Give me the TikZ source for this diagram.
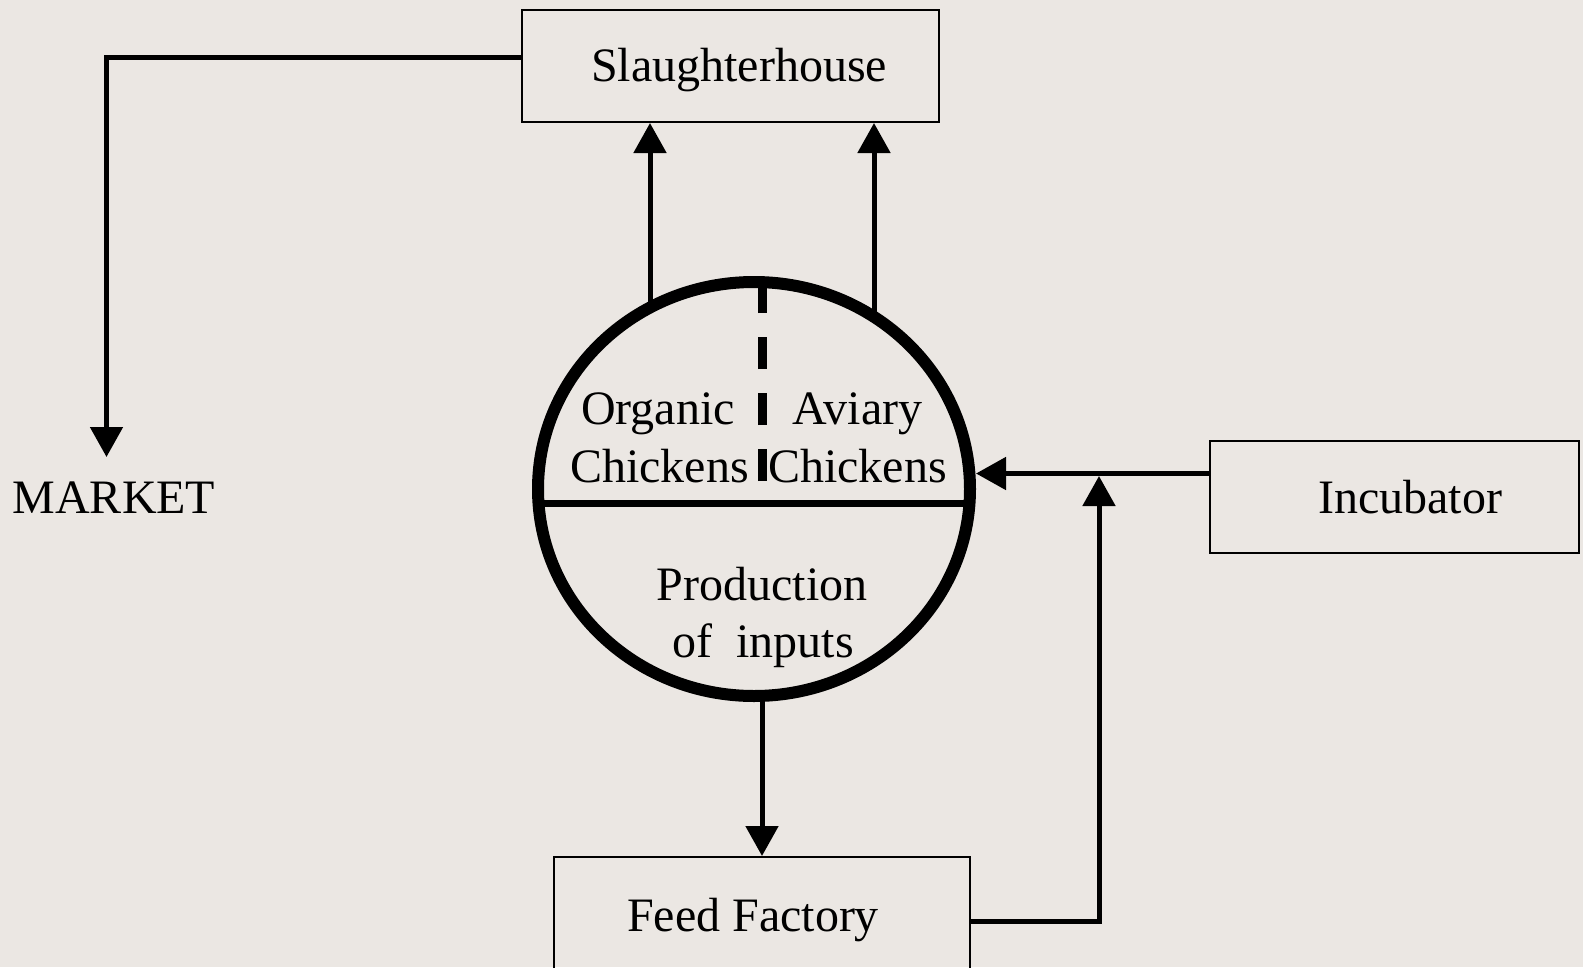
\documentclass[tikz,border=0pt]{standalone}
\usepackage{fontspec}
\setmainfont{Liberation Serif}
\usetikzlibrary{arrows.meta,shapes.geometric}
\definecolor{bg}{RGB}{235,231,227}
\begin{document}
\begin{tikzpicture}[x=1pt,y=-1pt,
  box/.style={draw,line width=2pt,rectangle,inner sep=0pt},
  lbl/.style={font=\fontsize{48}{57}\selectfont,inner sep=0pt,anchor=base},
  conn/.style={line width=5pt,-{Triangle[width=32pt,length=30pt]}},
  plainline/.style={line width=5pt}]
\useasboundingbox (0,0) rectangle (1583,967);
\fill[bg] (0,0) rectangle (1583,967);
\clip (0,0) rectangle (1583,967);

% boxes
\node[box,minimum width=417pt,minimum height=112pt] (slaughter) at (730.5,66) {};
\node[box,minimum width=369pt,minimum height=112pt] (incub) at (1394.5,497) {};
\node[box,minimum width=416pt,minimum height=112pt] (feed) at (762,913) {};

% inner divisions of the hub
\coordinate (hl) at (538.5,503);
\coordinate (hr) at (969.5,503);
\draw[line width=7pt] (hl) -- (hr);
\coordinate (db) at (762,481);
\coordinate (dt) at (762,283);
\draw[line width=9pt,dash pattern=on 32pt off 24pt] (db) -- (dt);

% hub
\node[ellipse,draw,line width=12pt,minimum width=432pt,minimum height=414pt,inner sep=0pt] (hub) at (754,489) {};

% labels
\node[lbl] (tslaughter) at (739,81) {Slaughterhouse};
\node[lbl] (tmarket) at (114,513) {MARKET};
\node[lbl] (tincub) at (1410,513) {Incubator};
\node[lbl] (tfeed) at (753,931) {Feed Factory};
\node[lbl] (torg) at (658,424) {Organic};
\node[lbl] (tch1) at (659.5,482) {Chickens};
\node[lbl] (tav) at (857.5,424) {Aviary};
\node[lbl] (tch2) at (857.5,482) {Chickens};
\node[lbl] (tprod) at (762,600) {Production};
\node[lbl] (tinp) at (763,657) {of\ \ inputs};

% connectors
\coordinate (a1) at (650,305);
\coordinate (a2) at (874,315);
\draw[conn] (a1) -- (a1 |- slaughter.south);
\draw[conn] (a2) -- (a2 |- slaughter.south);

\coordinate (m0) at (522,57.5);
\coordinate (mtip) at (106.5,457);
\draw[conn] (m0) -| (mtip);

\coordinate (i0) at (1210,473.5);
\coordinate (i1) at (976,473.5);
\draw[conn] (i0) -- (i1);

\coordinate (f0) at (970,921);
\coordinate (ftip) at (1099,476);
\draw[conn] (f0) -| (ftip);

\coordinate (b0) at (762,696);
\draw[conn] (b0) -- (b0 |- feed.north);
\end{tikzpicture}
\end{document}
